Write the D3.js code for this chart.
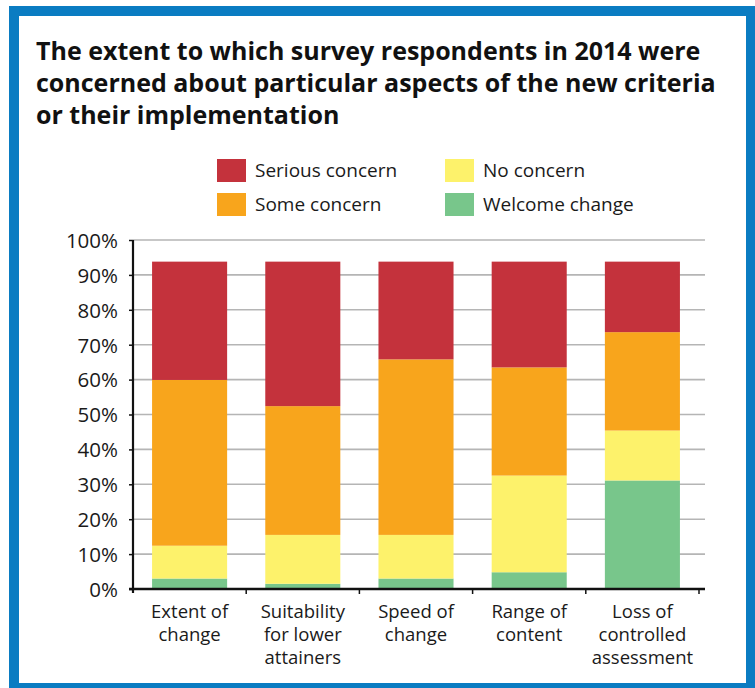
<!DOCTYPE html>
<html>
<head>
<meta charset="utf-8">
<script src="https://cdn.jsdelivr.net/npm/d3@7"></script>
<style>
  html, body { margin: 0; padding: 0; background: #fff; }
  svg { display: block; }
  text { font-family: "Open Sans", "Noto Sans", sans-serif; fill: #1a1a1a; }
</style>
</head>
<body>
<svg id="chart" width="755" height="688"></svg>
<script>
// Survey responses (percent of respondents) per aspect of the new criteria
const categories = ["Extent of change", "Suitability for lower attainers", "Speed of change", "Range of content", "Loss of controlled assessment"];
const categoryLines = [["Extent of", "change"], ["Suitability", "for lower", "attainers"], ["Speed of", "change"], ["Range of", "content"], ["Loss of", "controlled", "assessment"]];
const seriesNames = ["Welcome change", "No concern", "Some concern", "Serious concern"];
const welcomeChange = [3.0, 1.5, 3.0, 4.8, 31.1];
const noConcern = [9.4, 14.0, 12.5, 27.7, 14.3];
const someConcern = [47.5, 36.9, 50.3, 31.0, 28.2];
const seriousConcern = [33.9, 41.4, 28.0, 30.3, 20.2];
const yTicks = [0, 10, 20, 30, 40, 50, 60, 70, 80, 90, 100];
const titleLines = [
  "The extent to which survey respondents in 2014 were",
  "concerned about particular aspects of the new criteria",
  "or their implementation"
];

const colors = {
  "Serious concern": "#c4323c",
  "Some concern": "#f8a51c",
  "No concern": "#fdf26b",
  "Welcome change": "#78c68b"
};

const svg = d3.select("#chart");

// Blue frame around the panel
svg.append("rect")
  .attr("x", 14).attr("y", 11)
  .attr("width", 737).attr("height", 677)
  .attr("fill", "#fff")
  .attr("stroke", "#0a7cc2")
  .attr("stroke-width", 10);

// Title: set large, then compressed horizontally to the panel width
const title = svg.append("g");
const titleText = title.selectAll("text").data(titleLines).join("text")
  .attr("x", 0)
  .attr("y", (d, i) => 60 + i * 32)
  .style("font-weight", "700")
  .style("font-size", "25px")
  .style("fill", "#111")
  .text(d => d);
const w0 = titleText.nodes()[0].getComputedTextLength();
const squeeze = Math.min(1, 670 / w0);
title.attr("transform", `translate(36,0) scale(${squeeze},1)`);

// Table of stacked values
const rows = categories.map((c, i) => ({
  category: c,
  "Welcome change": welcomeChange[i],
  "No concern": noConcern[i],
  "Some concern": someConcern[i],
  "Serious concern": seriousConcern[i]
}));
const stacked = d3.stack().keys(seriesNames)(rows);

const plotLeft = 133, plotRight = 699, gridRight = 705, plotTop = 240, plotBottom = 589;

const x = d3.scaleBand()
  .domain(categories)
  .range([plotLeft, plotRight])
  .paddingInner(0.337)
  .paddingOuter(0.1685);

const y = d3.scaleLinear().domain([0, 100]).range([plotBottom, plotTop]);

// Gridlines
svg.append("g")
  .selectAll("line")
  .data(yTicks.filter(t => t > 0))
  .join("line")
  .attr("x1", plotLeft).attr("x2", gridRight)
  .attr("y1", d => y(d)).attr("y2", d => y(d))
  .attr("stroke", "#b5b5b5")
  .attr("stroke-width", 1.6);

// Bars
svg.append("g")
  .selectAll("g")
  .data(stacked)
  .join("g")
  .attr("fill", d => colors[d.key])
  .selectAll("rect")
  .data(d => d)
  .join("rect")
  .attr("x", d => x(d.data.category))
  .attr("width", x.bandwidth())
  .attr("y", d => y(d[1]))
  .attr("height", d => y(d[0]) - y(d[1]));

// Y axis
const yAxis = svg.append("g")
  .attr("transform", `translate(${plotLeft},0)`)
  .call(d3.axisLeft(y).tickValues(yTicks).tickSize(4).tickPadding(11).tickFormat(d => d + "%"));
yAxis.select(".domain").remove();
yAxis.selectAll(".tick line").attr("stroke", "#111").attr("stroke-width", 1.5);
yAxis.selectAll(".tick text")
  .style("font-size", "20.5px")
  .style("font-family", "\"Open Sans\", sans-serif")
  .attr("fill", "#1a1a1a")
  .attr("dy", "0.36em");
svg.append("line")
  .attr("x1", plotLeft).attr("x2", plotLeft)
  .attr("y1", plotTop).attr("y2", plotBottom + 4)
  .attr("stroke", "#111").attr("stroke-width", 2.2);

// X axis: baseline, ticks between categories, wrapped labels
svg.append("line")
  .attr("x1", plotLeft - 4).attr("x2", gridRight)
  .attr("y1", plotBottom).attr("y2", plotBottom)
  .attr("stroke", "#111").attr("stroke-width", 2.4);

const boundaries = categories.map(c => x(c) + x.bandwidth() + (x.step() - x.bandwidth()) / 2);
svg.append("g").selectAll("line").data(boundaries).join("line")
  .attr("x1", d => d).attr("x2", d => d)
  .attr("y1", plotBottom).attr("y2", plotBottom + 5)
  .attr("stroke", "#111").attr("stroke-width", 1.5);

svg.append("g").selectAll("text").data(categories).join("text")
  .attr("text-anchor", "middle")
  .style("font-size", "18.5px")
  .attr("transform", c => `translate(${x(c) + x.bandwidth() / 2},618)`)
  .selectAll("tspan")
  .data((c, i) => categoryLines[i])
  .join("tspan")
  .attr("x", 0)
  .attr("y", (d, j) => j * 23)
  .text(d => d);

// Legend
const legendItems = [
  { name: "Serious concern", col: 0, row: 0 },
  { name: "Some concern", col: 0, row: 1 },
  { name: "No concern", col: 1, row: 0 },
  { name: "Welcome change", col: 1, row: 1 }
];
const legend = svg.append("g").selectAll("g").data(legendItems).join("g")
  .attr("transform", d => `translate(${d.col ? 445 : 217},${159 + d.row * 34})`);
legend.append("rect")
  .attr("width", 29).attr("height", 23)
  .attr("fill", d => colors[d.name]);
legend.append("text")
  .attr("x", 38).attr("y", 18)
  .style("font-size", "19px")
  .text(d => d.name);
</script>
</body>
</html>
